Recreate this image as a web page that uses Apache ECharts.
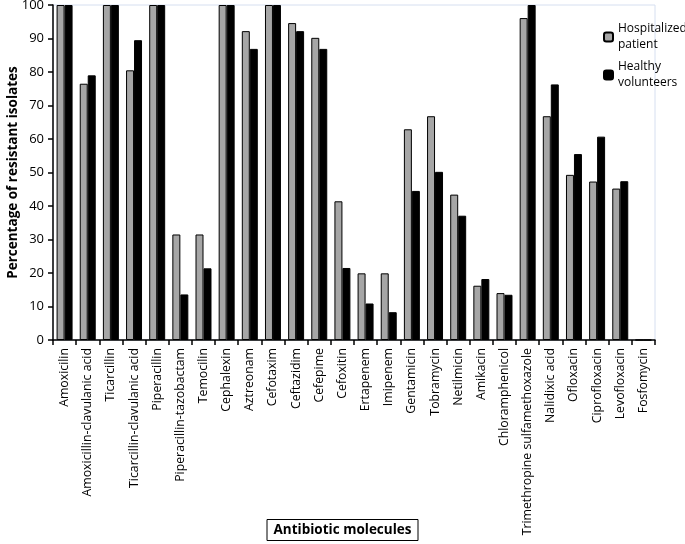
<!DOCTYPE html>
<html><head><meta charset="utf-8">
<script src="https://cdn.jsdelivr.net/npm/echarts@6/dist/echarts.min.js"></script>
<style>html,body{margin:0;padding:0;background:#fff}#c{width:685px;height:544px}</style>
</head><body><div id="c"></div>
<script>
const categories = ["Amoxicilin","Amoxicillin-clavulanic acid","Ticarcillin","Ticarcillin-clavulanic acid","Piperacillin","Piperacillin-tazobactam","Temocilin","Cephalexin","Aztreonam","Cefotaxim","Ceftazidim","Cefepime","Cefoxitin","Ertapenem","Imipenem","Gentamicin","Tobramycin","Netilmicin","Amikacin","Chloramphenicol","Trimethropine sulfamethoxazole","Nalidixic acid","Ofloxacin","Ciprofloxacin","Levofloxacin","Fosfomycin"];
const hospitalized = [100,76.5,100,80.5,100,31.5,31.5,100,92.2,100,94.6,90.2,41.4,19.9,19.9,62.9,66.8,43.4,16.2,14.0,96.1,66.8,49.3,47.3,45.2,0];
const healthy = [100,79.0,100,89.5,100,13.6,21.4,100,86.9,100,92.2,86.9,21.5,10.9,8.3,44.5,50.2,37.1,18.2,13.5,100,76.3,55.5,60.7,47.4,0];
const yTicks = [0,10,20,30,40,50,60,70,80,90,100];
const seriesNames = ["Hospitalized\npatient","Healthy\nvolunteers"];
const xTitle = "Antibiotic molecules";
const yTitle = "Percentage of resistant isolates";

const font = "Open Sans";
const chart = echarts.init(document.getElementById('c'));
chart.setOption({
  animation:false,
  textStyle:{fontFamily:font},
  title:{
    text:xTitle, left:'center', top:519, padding:[4,7,4,7],
    borderColor:'#000', borderWidth:1,
    textStyle:{fontSize:13.5, fontWeight:'bold', color:'#000', fontFamily:font}
  },
  grid:{left:53,right:30,top:5,bottom:204,outerBoundsMode:'none',containLabel:false,show:true,borderColor:'#d6dff0',borderWidth:1},
  legend:{
    orient:'vertical', left:603, top:21, padding:0, itemWidth:9, itemHeight:9, itemGap:6,
    textStyle:{fontSize:12, color:'#000', fontFamily:font, lineHeight:16},
    data:seriesNames
  },
  xAxis:{
    type:'category', data:categories,
    axisLine:{lineStyle:{color:'#000',width:1.5}},
    axisTick:{show:true, alignWithLabel:false, length:5, lineStyle:{color:'#000',width:1.5}},
    axisLabel:{rotate:90, interval:0, fontSize:12.3, color:'#000', margin:8}
  },
  yAxis:{
    type:'value', min:yTicks[0], max:yTicks[yTicks.length-1], interval:10,
    splitLine:{show:false},
    axisLine:{show:true,lineStyle:{color:'#000',width:1.5}},
    axisTick:{show:true,length:5,lineStyle:{color:'#000',width:1.5}},
    axisLabel:{fontSize:13,color:'#000',margin:9},
    name:yTitle, nameLocation:'middle', nameGap:33, nameMoveOverlap:false,
    nameTextStyle:{fontSize:13.5,fontWeight:'bold',color:'#000'}
  },
  series:[
    {name:seriesNames[0], type:'bar', data:hospitalized, barGap:'0%', barCategoryGap:'31%',
     itemStyle:{color:'#a6a6a6', borderColor:'#000', borderWidth:1}},
    {name:seriesNames[1], type:'bar', data:healthy,
     itemStyle:{color:'#000', borderColor:'#000', borderWidth:1}}
  ]
});
</script></body></html>
